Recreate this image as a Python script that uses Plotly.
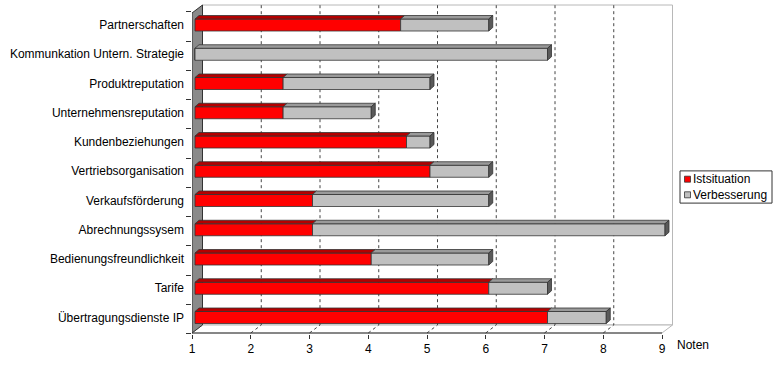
import plotly.graph_objects as go

# ---------------- data ----------------
categories = [
    "Partnerschaften",
    "Kommunkation Untern. Strategie",
    "Produktreputation",
    "Unternehmensreputation",
    "Kundenbeziehungen",
    "Vertriebsorganisation",
    "Verkaufsförderung",
    "Abrechnungssysem",
    "Bedienungsfreundlichkeit",
    "Tarife",
    "Übertragungsdienste IP",
]
istsituation = [4.5, 1, 2.5, 2.5, 4.6, 5, 3, 3, 4, 6, 7]
verbesserung = [1.5, 6, 2.5, 1.5, 0.4, 1, 3, 6, 2, 1, 1]
x_tick_values = [1, 2, 3, 4, 5, 6, 7, 8, 9]
x_tick_labels = ["1", "2", "3", "4", "5", "6", "7", "8", "9"]
axis_title = "Noten"
series_names = ["Istsituation", "Verbesserung"]
axis_min, axis_max = 1, 9

# ---------------- geometry (pixels) ----------------
W, H = 780, 384
PL, PR = 192, 676          # plot area left / right (px)
PT, PB = 3, 334            # plot area top / bottom (px)
PXU = 58.75                # px per x unit
PYU = 29.25                # px per category row
ROW0 = 25                  # pixel centre of first row

X0 = axis_min - 3 / PXU
X1 = X0 + (PR - PL) / PXU
Y_TOP = (PT - ROW0) / PYU
Y_BOT = (PB - ROW0) / PYU


def dx(p):
    return p / PXU


def py(p):
    return (p - ROW0) / PYU


FRONT = dx(-3)      # floor front plane offset
BACK = dx(7.5)      # back wall plane offset
Y_FLOOR_F = py(333)
Y_FLOOR_B = py(325)
Y_WALL_TOP_B = py(5)
Y_WALL_TOP_F = py(13)

HALF = 6 / PYU          # half height of bar front face
BDX = dx(4)             # bar depth x
BDY = 3.5 / PYU         # bar depth y

FONT = "Liberation Sans, Arial, sans-serif"
DARK = "#333333"
LIGHT = "#b8b8b8"

fig = go.Figure()


def path(points):
    return "M " + " L ".join(f"{x},{y}" for x, y in points) + " Z"


shapes = []
# back wall
shapes.append(dict(type="path", xref="x", yref="y", layer="below",
                   path=path([(axis_min + BACK, Y_WALL_TOP_B), (axis_max + BACK, Y_WALL_TOP_B),
                              (axis_max + BACK, Y_FLOOR_B), (axis_min + BACK, Y_FLOOR_B)]),
                   fillcolor="white", line=dict(color=LIGHT, width=1)))
# floor
shapes.append(dict(type="path", xref="x", yref="y", layer="below",
                   path=path([(axis_min + FRONT, Y_FLOOR_F), (axis_max + FRONT, Y_FLOOR_F),
                              (axis_max + BACK, Y_FLOOR_B), (axis_min + BACK, Y_FLOOR_B)]),
                   fillcolor="white", line=dict(color=LIGHT, width=1)))
# gridlines (floor diagonal + back wall)
for v in x_tick_values[1:-1]:
    shapes.append(dict(type="path", xref="x", yref="y", layer="below",
                       path=f"M {v + FRONT},{Y_FLOOR_F} L {v + BACK},{Y_FLOOR_B} L {v + BACK},{Y_WALL_TOP_B}",
                       line=dict(color="#444444", width=1, dash="dot")))
# floor front edge
shapes.append(dict(type="line", xref="x", yref="y", layer="below",
                   x0=axis_min + FRONT, x1=axis_max + FRONT, y0=Y_FLOOR_F, y1=Y_FLOOR_F,
                   line=dict(color=DARK, width=1)))
# left wall
shapes.append(dict(type="path", xref="x", yref="y", layer="below",
                   path=path([(axis_min + FRONT, Y_WALL_TOP_F), (axis_min + BACK, Y_WALL_TOP_B),
                              (axis_min + BACK, Y_FLOOR_B), (axis_min + FRONT, Y_FLOOR_F)]),
                   fillcolor="#8a8a8a", line=dict(color=DARK, width=1)))

rows = list(range(len(categories)))

# front faces
fig.add_trace(go.Bar(
    name=series_names[0], orientation="h", y=rows,
    x=[v - axis_min for v in istsituation], base=axis_min, width=2 * HALF,
    marker=dict(color="#ff0000", line=dict(color=DARK, width=0.8)),
))
fig.add_trace(go.Bar(
    name=series_names[1], orientation="h", y=rows,
    x=verbesserung, base=istsituation, width=2 * HALF,
    marker=dict(color="#c0c0c0", line=dict(color=DARK, width=0.8)),
))

# 3D top/side faces
red_x, red_y, grey_x, grey_y, side_x, side_y = [], [], [], [], [], []
for i in rows:
    a, b = axis_min, istsituation[i]
    c = b + verbesserung[i]
    yt = i - HALF
    yb = i + HALF
    if b > a:
        red_x += [a, b, b + BDX, a + BDX, a, None]
        red_y += [yt, yt, yt - BDY, yt - BDY, yt, None]
    grey_x += [b, c, c + BDX, b + BDX, b, None]
    grey_y += [yt, yt, yt - BDY, yt - BDY, yt, None]
    side_x += [c, c + BDX, c + BDX, c, c, None]
    side_y += [yt, yt - BDY, yb - BDY, yb, yt, None]

for xs, ys, col in [(red_x, red_y, "#b40000"), (grey_x, grey_y, "#9a9a9a"), (side_x, side_y, "#5a5a5a")]:
    fig.add_trace(go.Scatter(x=xs, y=ys, mode="lines", fill="toself", fillcolor=col,
                             line=dict(color=DARK, width=0.8), hoverinfo="skip", showlegend=False))

# manual legend
PW, PH = PR - PL, PB - PT


def px_(x):
    return (x - PL) / PW


def py_(y):
    return 1 - (y - PT) / PH


LEG_FS = 12
LINE_H = 1.3 * LEG_FS
LEG_C = 187
shapes.append(dict(type="rect", xref="paper", yref="paper",
                   x0=px_(680), x1=px_(772), y0=py_(LEG_C - LINE_H - 0.5), y1=py_(LEG_C + LINE_H + 0.5),
                   fillcolor="white", line=dict(color=DARK, width=1)))
for k, col in enumerate(["#ff0000", "#c0c0c0"]):
    yc = LEG_C + (k - 0.5) * LINE_H
    shapes.append(dict(type="rect", xref="paper", yref="paper",
                       x0=px_(684.5), x1=px_(690.5), y0=py_(yc - 3), y1=py_(yc + 3),
                       fillcolor=col, line=dict(color=DARK, width=0.8)))
annotations = [
    dict(xref="paper", yref="paper", x=px_(691.5), y=py_(LEG_C),
         xanchor="left", yanchor="middle", align="left",
         text="<br>".join(series_names), showarrow=False, borderpad=0,
         font=dict(family=FONT, size=LEG_FS, color="black")),
    dict(xref="paper", yref="paper", x=px_(675), y=py_(345),
         xanchor="left", yanchor="middle", text=axis_title, showarrow=False,
         font=dict(family=FONT, size=12, color="black")),
]

fig.update_layout(
    width=W, height=H,
    margin=dict(l=PL, r=W - PR, t=PT, b=H - PB, pad=0),
    paper_bgcolor="white", plot_bgcolor="white",
    barmode="overlay", showlegend=False,
    font=dict(family=FONT, size=12, color="black"),
    shapes=shapes, annotations=annotations,
    xaxis=dict(range=[X0, X1], tickvals=[v + FRONT for v in x_tick_values], ticktext=x_tick_labels,
               ticks="outside", ticklen=4, tickcolor=DARK, showgrid=False, zeroline=False,
               showline=False, fixedrange=True),
    yaxis=dict(range=[Y_BOT, Y_TOP], tickvals=rows, ticktext=categories, ticks="",
               showgrid=False, zeroline=False, showline=False, ticklabelstandoff=7,
               minor=dict(tickvals=[i - 0.45 for i in rows] + [len(rows) - 0.45], ticks="outside",
                          ticklen=5, tickcolor=DARK, showgrid=False),
               fixedrange=True),
)

fig.write_html("out.html", config={"displayModeBar": False},
               post_script="document.body.style.margin='0';")
